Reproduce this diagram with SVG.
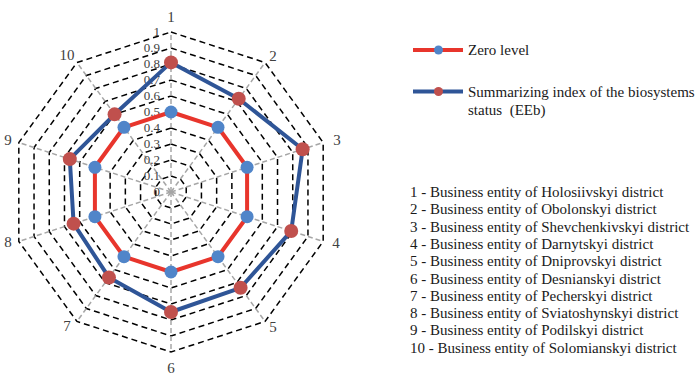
<svg xmlns="http://www.w3.org/2000/svg" width="697" height="375" viewBox="0 0 697 375">
  <style>
    .ring { fill: none; stroke: #000; stroke-width: 1.5; stroke-dasharray: 6 4; }
    .axis { stroke: #a6a6a6; stroke-width: 1.5; stroke-dasharray: 5 3; }
    .zero { fill: none; stroke: #e8352c; stroke-width: 4; stroke-linejoin: round; }
    .eeb { fill: none; stroke: #2f5597; stroke-width: 4; stroke-linejoin: round; }
    .dotZero { fill: #5085c9; }
    .dotEeb { fill: #c0504d; }
    text { font-family: "Liberation Serif", "Times New Roman", Times, serif; }
    .tick { font-size: 13px; fill: #404040; text-anchor: end; }
    .cat { font-size: 15px; fill: #404040; text-anchor: middle; }
    .leg { font-size: 15px; fill: #1a1a1a; white-space: pre; }
  </style>
  <rect width="697" height="375" fill="#fff"/>

  <!-- grid rings 0.1 .. 1.0 -->
  <g id="grid">
    <polygon class="ring" points="171,176 180.4,179.06 186.22,187.06 186.22,196.94 180.4,204.94 171,208 161.6,204.94 155.78,196.94 155.78,187.06 161.6,179.06"/>
    <polygon class="ring" points="171,160 189.81,166.11 201.44,182.11 201.44,201.89 189.81,217.89 171,224 152.19,217.89 140.56,201.89 140.56,182.11 152.19,166.11"/>
    <polygon class="ring" points="171,144 199.21,153.17 216.65,177.17 216.65,206.83 199.21,230.83 171,240 142.79,230.83 125.35,206.83 125.35,177.17 142.79,153.17"/>
    <polygon class="ring" points="171,128 208.62,140.22 231.87,172.22 231.87,211.78 208.62,243.78 171,256 133.38,243.78 110.13,211.78 110.13,172.22 133.38,140.22"/>
    <polygon class="ring" points="171,112 218.02,127.28 247.09,167.28 247.09,216.72 218.02,256.72 171,272 123.98,256.72 94.91,216.72 94.91,167.28 123.98,127.28"/>
    <polygon class="ring" points="171,96 227.43,114.34 262.31,162.34 262.31,221.66 227.43,269.66 171,288 114.57,269.66 79.69,221.66 79.69,162.34 114.57,114.34"/>
    <polygon class="ring" points="171,80 236.83,101.39 277.52,157.39 277.52,226.61 236.83,282.61 171,304 105.17,282.61 64.48,226.61 64.48,157.39 105.17,101.39"/>
    <polygon class="ring" points="171,64 246.24,88.45 292.74,152.45 292.74,231.55 246.24,295.55 171,320 95.76,295.55 49.26,231.55 49.26,152.45 95.76,88.45"/>
    <polygon class="ring" points="171,48 255.64,75.5 307.96,147.5 307.96,236.5 255.64,308.5 171,336 86.36,308.5 34.04,236.5 34.04,147.5 86.36,75.5"/>
    <polygon class="ring" points="171,32 265.05,62.56 323.18,142.56 323.18,241.44 265.05,321.44 171,352 76.95,321.44 18.82,241.44 18.82,142.56 76.95,62.56"/>
  </g>

  <!-- spokes -->
  <g id="axes">
    <line class="axis" x1="171" y1="192" x2="171" y2="32"/>
    <line class="axis" x1="171" y1="192" x2="265.05" y2="62.56"/>
    <line class="axis" x1="171" y1="192" x2="323.18" y2="142.56"/>
    <line class="axis" x1="171" y1="192" x2="323.18" y2="241.44"/>
    <line class="axis" x1="171" y1="192" x2="265.05" y2="321.44"/>
    <line class="axis" x1="171" y1="192" x2="171" y2="352"/>
    <line class="axis" x1="171" y1="192" x2="76.95" y2="321.44"/>
    <line class="axis" x1="171" y1="192" x2="18.82" y2="241.44"/>
    <line class="axis" x1="171" y1="192" x2="18.82" y2="142.56"/>
    <line class="axis" x1="171" y1="192" x2="76.95" y2="62.56"/>
  </g>

  <!-- scale labels -->
  <g id="scale">
    <text class="tick" x="160" y="36">1</text>
    <text class="tick" x="160" y="52">0.9</text>
    <text class="tick" x="160" y="68">0.8</text>
    <text class="tick" x="160" y="84">0.7</text>
    <text class="tick" x="160" y="100">0.6</text>
    <text class="tick" x="160" y="116">0.5</text>
    <text class="tick" x="160" y="132">0.4</text>
    <text class="tick" x="160" y="148">0.3</text>
    <text class="tick" x="160" y="164">0.2</text>
    <text class="tick" x="160" y="180">0.1</text>
    <text class="tick" x="160" y="196">0</text>
  </g>

  <!-- category labels -->
  <g id="categories">
    <text class="cat" x="171" y="22">1</text>
    <text class="cat" x="273" y="61">2</text>
    <text class="cat" x="337" y="145">3</text>
    <text class="cat" x="336" y="248">4</text>
    <text class="cat" x="273" y="332">5</text>
    <text class="cat" x="171" y="373">6</text>
    <text class="cat" x="67" y="331">7</text>
    <text class="cat" x="8" y="247">8</text>
    <text class="cat" x="8" y="145">9</text>
    <text class="cat" x="67" y="60">10</text>
  </g>

  <!-- series: zero level -->
  <g id="series-zero">
    <polygon class="zero" points="171,112 218.02,127.28 247.09,167.28 247.09,216.72 218.02,256.72 171,272 123.98,256.72 94.91,216.72 94.91,167.28 123.98,127.28"/>
    <circle class="dotZero" cx="171" cy="112" r="6.5"/>
    <circle class="dotZero" cx="218.02" cy="127.28" r="6.5"/>
    <circle class="dotZero" cx="247.09" cy="167.28" r="6.5"/>
    <circle class="dotZero" cx="247.09" cy="216.72" r="6.5"/>
    <circle class="dotZero" cx="218.02" cy="256.72" r="6.5"/>
    <circle class="dotZero" cx="171" cy="272" r="6.5"/>
    <circle class="dotZero" cx="123.98" cy="256.72" r="6.5"/>
    <circle class="dotZero" cx="94.91" cy="216.72" r="6.5"/>
    <circle class="dotZero" cx="94.91" cy="167.28" r="6.5"/>
    <circle class="dotZero" cx="123.98" cy="127.28" r="6.5"/>
  </g>

  <!-- series: summarizing index -->
  <g id="series-eeb">
    <polygon class="eeb" points="171,62.4 238.71,98.8 302.63,149.23 291.22,231.06 240.6,287.79 171,312 108.93,277.43 73.61,223.64 69.8,159.12 114.57,114.34"/>
    <circle class="dotEeb" cx="171" cy="62.4" r="7"/>
    <circle class="dotEeb" cx="238.71" cy="98.8" r="7"/>
    <circle class="dotEeb" cx="302.63" cy="149.23" r="7"/>
    <circle class="dotEeb" cx="291.22" cy="231.06" r="7"/>
    <circle class="dotEeb" cx="240.6" cy="287.79" r="7"/>
    <circle class="dotEeb" cx="171" cy="312" r="7"/>
    <circle class="dotEeb" cx="108.93" cy="277.43" r="7"/>
    <circle class="dotEeb" cx="73.61" cy="223.64" r="7"/>
    <circle class="dotEeb" cx="69.8" cy="159.12" r="7"/>
    <circle class="dotEeb" cx="114.57" cy="114.34" r="7"/>
  </g>

  <!-- legend -->
  <g id="legend-zero">
    <line x1="413" y1="50" x2="463" y2="50" stroke="#e8352c" stroke-width="4"/>
    <circle class="dotZero" cx="438.5" cy="50" r="4.5"/>
    <text class="leg" x="468" y="55">Zero level</text>
  </g>
  <g id="legend-eeb">
    <line x1="413" y1="91.5" x2="463" y2="91.5" stroke="#2f5597" stroke-width="4"/>
    <circle class="dotEeb" cx="438.5" cy="91.5" r="4.5"/>
    <text class="leg" x="468" y="97">Summarizing index of the biosystems</text>
    <text class="leg" x="468" y="115" xml:space="preserve">status  (EEb)</text>
  </g>

  <!-- district key -->
  <g id="key">
    <text class="leg" x="410" y="197">1 - Business entity of Holosiivskyi district</text>
    <text class="leg" x="410" y="214.3">2 - Business entity of Obolonskyi district</text>
    <text class="leg" x="410" y="231.6">3 - Business entity of Shevchenkivskyi district</text>
    <text class="leg" x="410" y="248.9">4 - Business entity of Darnytskyi district</text>
    <text class="leg" x="410" y="266.2">5 - Business entity of Dniprovskyi district</text>
    <text class="leg" x="410" y="283.5">6 - Business entity of Desnianskyi district</text>
    <text class="leg" x="410" y="300.8">7 - Business entity of Pecherskyi district</text>
    <text class="leg" x="410" y="318.1">8 - Business entity of Sviatoshynskyi district</text>
    <text class="leg" x="410" y="335.4">9 - Business entity of Podilskyi district</text>
    <text class="leg" x="410" y="352.7">10 - Business entity of Solomianskyi district</text>
  </g>
</svg>
